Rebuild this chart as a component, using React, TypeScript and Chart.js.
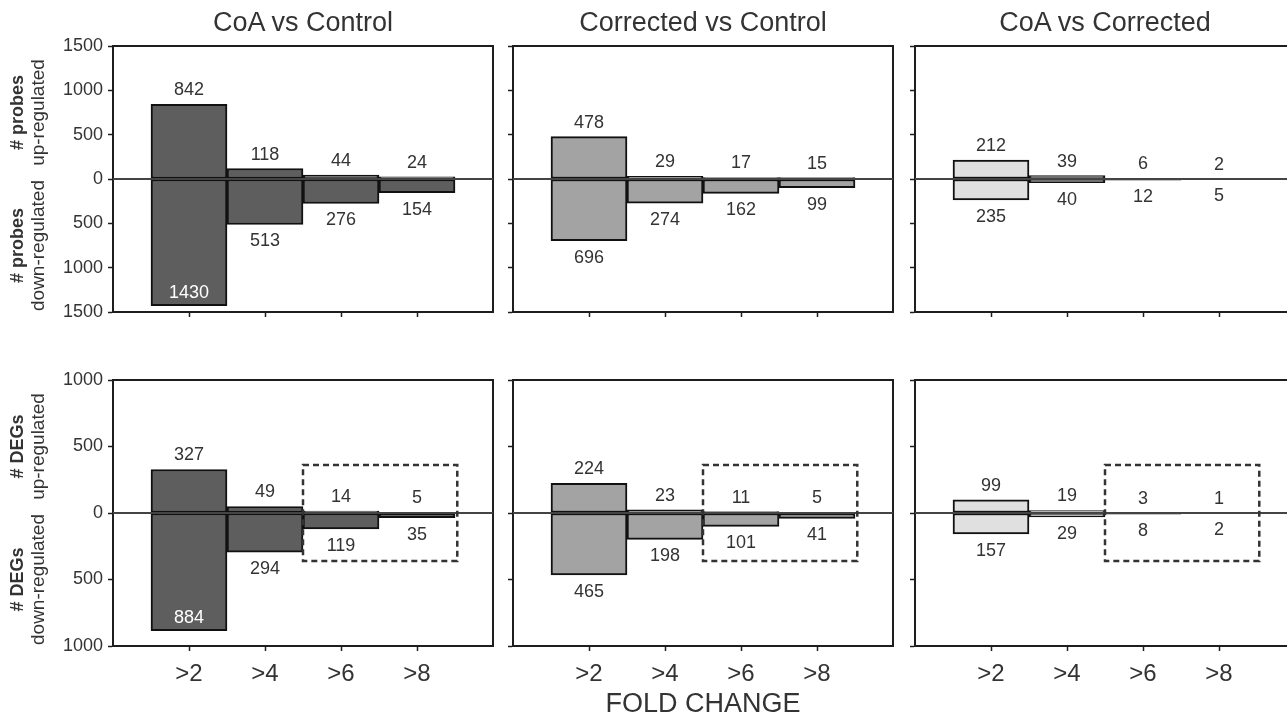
import React, { useEffect, useRef } from 'react';
import { Chart, registerables } from 'chart.js';

Chart.register(...registerables);

// ---------- data ----------
const FOLD_LABELS = ['>2', '>4', '>6', '>8'];
const PANEL_TITLES = ['CoA vs Control', 'Corrected vs Control', 'CoA vs Corrected'];
const X_AXIS_TITLE = 'FOLD CHANGE';
const ROW_TITLES = ['# probes', '# DEGs'];
const UP_TEXT = 'up-regulated';
const DOWN_TEXT = 'down-regulated';

const PROBES_UP_COA_CONTROL = [842, 118, 44, 24];
const PROBES_DOWN_COA_CONTROL = [1430, 513, 276, 154];
const PROBES_UP_CORR_CONTROL = [478, 29, 17, 15];
const PROBES_DOWN_CORR_CONTROL = [696, 274, 162, 99];
const PROBES_UP_COA_CORR = [212, 39, 6, 2];
const PROBES_DOWN_COA_CORR = [235, 40, 12, 5];

const DEGS_UP_COA_CONTROL = [327, 49, 14, 5];
const DEGS_DOWN_COA_CONTROL = [884, 294, 119, 35];
const DEGS_UP_CORR_CONTROL = [224, 23, 11, 5];
const DEGS_DOWN_CORR_CONTROL = [465, 198, 101, 41];
const DEGS_UP_COA_CORR = [99, 19, 3, 1];
const DEGS_DOWN_COA_CORR = [157, 29, 8, 2];

const PROBES_AXIS_MAX = 1500;
const DEGS_AXIS_MAX = 1000;
const Y_STEP = 500;

// dashed highlight box (bottom row): spans the >6 and >8 bins, +/- 360
const DASH_FROM_LABEL = '>6';
const DASH_TO_LABEL = '>8';
const DASH_LEVEL = 360;

// ---------- styles / layout ----------
const FILLS = ['#5e5e5e', '#a3a3a3', '#e0e0e0'];
const FONT = "'Liberation Sans', Arial, Helvetica, sans-serif";
const TEXT = '#333333';
const AXIS = '#1e1e1e';
const PLOT_LEFTS = [113, 513, 915];
const PLOT_W = 380;
const PLOT_H = 266;
const ROW_PLOT_TOPS = [46, 380];
const PAD_TOP = 46;
const PAD_RIGHT = 12;
const X_AXIS_H = [16, 45];
const Y_AXIS_W0 = 60;
const Y_AXIS_W = 10;
const LEFT_PAD0 = PLOT_LEFTS[0] - Y_AXIS_W0;

type Spec = {
  row: number;
  col: number;
  up: number[];
  down: number[];
  axisMax: number;
};

const SPECS: Spec[] = [
  { row: 0, col: 0, up: PROBES_UP_COA_CONTROL, down: PROBES_DOWN_COA_CONTROL, axisMax: PROBES_AXIS_MAX },
  { row: 0, col: 1, up: PROBES_UP_CORR_CONTROL, down: PROBES_DOWN_CORR_CONTROL, axisMax: PROBES_AXIS_MAX },
  { row: 0, col: 2, up: PROBES_UP_COA_CORR, down: PROBES_DOWN_COA_CORR, axisMax: PROBES_AXIS_MAX },
  { row: 1, col: 0, up: DEGS_UP_COA_CONTROL, down: DEGS_DOWN_COA_CONTROL, axisMax: DEGS_AXIS_MAX },
  { row: 1, col: 1, up: DEGS_UP_CORR_CONTROL, down: DEGS_DOWN_CORR_CONTROL, axisMax: DEGS_AXIS_MAX },
  { row: 1, col: 2, up: DEGS_UP_COA_CORR, down: DEGS_DOWN_COA_CORR, axisMax: DEGS_AXIS_MAX },
];

// category labels padded with an empty slot on each side
const AXIS_LABELS = ['', ...FOLD_LABELS, ''];
const pad = (arr: (number | null)[]) => [null, ...arr, null];

const decorPlugin = {
  id: 'panelDecor',
  afterDraw(chart: any, _args: any, opts: any) {
    const spec: Spec = opts.spec;
    const { ctx, chartArea: a } = chart;
    const xs = chart.scales.x;
    const ys = chart.scales.y;
    ctx.save();

    // frame
    ctx.strokeStyle = AXIS;
    ctx.lineWidth = 2;
    ctx.strokeRect(a.left, a.top, a.right - a.left, a.bottom - a.top);

    // zero line
    const y0 = ys.getPixelForValue(0);
    ctx.strokeStyle = '#444444';
    ctx.lineWidth = 2;
    ctx.beginPath();
    ctx.moveTo(a.left, y0);
    ctx.lineTo(a.right, y0);
    ctx.stroke();

    // dashed box
    if (spec.row === 1) {
      const fromIdx = AXIS_LABELS.indexOf(DASH_FROM_LABEL) - 0.5;
      const toIdx = AXIS_LABELS.indexOf(DASH_TO_LABEL) + 0.53;
      const l = xs.getPixelForValue(fromIdx);
      const r = xs.getPixelForValue(toIdx);
      const t = ys.getPixelForValue(DASH_LEVEL);
      const b = ys.getPixelForValue(-DASH_LEVEL);
      ctx.setLineDash([6, 4]);
      ctx.lineWidth = 2.5;
      ctx.strokeStyle = '#333333';
      ctx.strokeRect(l, t, r - l, b - t);
      ctx.setLineDash([]);
    }

    // value labels
    ctx.font = `18px ${FONT}`;
    ctx.textAlign = 'center';
    ctx.textBaseline = 'middle';
    const upMeta = chart.getDatasetMeta(0);
    const downMeta = chart.getDatasetMeta(1);
    FOLD_LABELS.forEach((_, i) => {
      const ub = upMeta.data[i + 1];
      const db = downMeta.data[i + 1];
      if (ub) {
        ctx.fillStyle = TEXT;
        ctx.fillText(String(spec.up[i]), ub.x, ub.y - 14);
      }
      if (db) {
        if (db.y + 27 > a.bottom) {
          ctx.fillStyle = '#ffffff';
          ctx.fillText(String(spec.down[i]), db.x, db.y - 13);
        } else {
          ctx.fillStyle = TEXT;
          ctx.fillText(String(spec.down[i]), db.x, db.y + 17);
        }
      }
    });

    // row titles (left column only)
    if (spec.col === 0) {
      const yUp = ys.getPixelForValue(spec.axisMax / 2);
      const yDown = ys.getPixelForValue(-spec.axisMax / 2);
      const drawRot = (text: string, x: number, y: number, font: string) => {
        ctx.save();
        ctx.translate(x, y);
        ctx.rotate(-Math.PI / 2);
        ctx.font = font;
        ctx.fillStyle = TEXT;
        ctx.textAlign = 'center';
        ctx.textBaseline = 'middle';
        ctx.fillText(text, 0, 0);
        ctx.restore();
      };
      const title = ROW_TITLES[spec.row];
      drawRot(title, 18, yUp, `bold 18px ${FONT}`);
      drawRot(UP_TEXT, 39, yUp, `19px ${FONT}`);
      drawRot(title, 18, yDown, `bold 18px ${FONT}`);
      drawRot(DOWN_TEXT, 39, yDown, `19px ${FONT}`);
    }
    ctx.restore();
  },
};

function canvasGeom(spec: Spec) {
  const left = spec.col === 0 ? 0 : PLOT_LEFTS[spec.col] - Y_AXIS_W;
  const padLeft = spec.col === 0 ? LEFT_PAD0 : 0;
  const yW = spec.col === 0 ? Y_AXIS_W0 : Y_AXIS_W;
  const width = padLeft + yW + PLOT_W + PAD_RIGHT;
  const top = ROW_PLOT_TOPS[spec.row] - PAD_TOP;
  const height = PAD_TOP + PLOT_H + X_AXIS_H[spec.row];
  return { left, top, width, height, padLeft, yW };
}

function Panel({ spec }: { spec: Spec }) {
  const ref = useRef<HTMLCanvasElement>(null);
  const g = canvasGeom(spec);
  useEffect(() => {
    if (!ref.current) return;
    const fill = FILLS[spec.col];
    const chart = new Chart(ref.current, {
      type: 'bar',
      data: {
        labels: AXIS_LABELS,
        datasets: [
          {
            label: 'up',
            data: pad(spec.up),
            backgroundColor: fill,
            borderColor: '#111111',
            borderWidth: 2,
            borderSkipped: false,
            barPercentage: 1,
            categoryPercentage: 1,
          },
          {
            label: 'down',
            data: pad(spec.down.map((v) => -v)),
            backgroundColor: fill,
            borderColor: '#111111',
            borderWidth: 2,
            borderSkipped: false,
            barPercentage: 1,
            categoryPercentage: 1,
          },
        ],
      },
      options: {
        animation: false,
        responsive: false,
        maintainAspectRatio: false,
        events: [],
        layout: { padding: { left: g.padLeft, top: PAD_TOP, right: PAD_RIGHT, bottom: 0 } },
        plugins: {
          legend: { display: false },
          tooltip: { enabled: false },
          title: { display: false },
          panelDecor: { spec },
        } as any,
        scales: {
          x: {
            type: 'category',
            stacked: true,
            offset: false,
            grid: {
              offset: false,
              drawOnChartArea: false,
              drawTicks: true,
              tickLength: 5,
              tickWidth: 1.5,
              tickColor: (c: any) =>
                c.index === 0 || c.index === AXIS_LABELS.length - 1 ? 'rgba(0,0,0,0)' : AXIS,
            },
            border: { display: true, color: AXIS, width: 2 },
            ticks: {
              display: spec.row === 1,
              autoSkip: false,
              maxRotation: 0,
              minRotation: 0,
              padding: 9,
              color: TEXT,
              font: { family: FONT, size: 24 },
            },
            afterFit: (s: any) => {
              s.height = X_AXIS_H[spec.row];
            },
          },
          y: {
            stacked: true,
            min: -spec.axisMax,
            max: spec.axisMax,
            grid: {
              drawOnChartArea: false,
              drawTicks: true,
              tickLength: 5,
              tickWidth: 1.5,
              tickColor: AXIS,
            },
            border: { display: true, color: AXIS, width: 2 },
            ticks: {
              display: spec.col === 0,
              stepSize: Y_STEP,
              padding: 5,
              color: TEXT,
              font: { family: FONT, size: 18 },
              callback: (v: any) => String(Math.abs(Number(v))),
            },
            afterFit: (s: any) => {
              s.width = g.yW;
            },
          },
        },
      } as any,
      plugins: [decorPlugin as any],
    });
    return () => chart.destroy();
  }, []);
  return (
    <canvas
      ref={ref}
      width={g.width}
      height={g.height}
      style={{ position: 'absolute', left: g.left, top: g.top, width: g.width, height: g.height }}
    />
  );
}

export default function App() {
  return (
    <div
      style={{
        position: 'fixed',
        left: 0,
        top: 0,
        width: 1287,
        height: 719,
        overflow: 'hidden',
        background: '#ffffff',
        fontFamily: FONT,
        color: TEXT,
      }}
    >
      {SPECS.map((s) => (
        <Panel key={`${s.row}-${s.col}`} spec={s} />
      ))}
      {PANEL_TITLES.map((t, i) => (
        <div
          key={t}
          style={{
            position: 'absolute',
            left: PLOT_LEFTS[i],
            width: PLOT_W,
            top: 6,
            lineHeight: '32px',
            fontSize: 27,
            textAlign: 'center',
            whiteSpace: 'nowrap',
          }}
        >
          {t}
        </div>
      ))}
      <div
        style={{
          position: 'absolute',
          left: PLOT_LEFTS[1],
          width: PLOT_W,
          top: 687,
          lineHeight: '32px',
          fontSize: 27,
          textAlign: 'center',
          whiteSpace: 'nowrap',
        }}
      >
        {X_AXIS_TITLE}
      </div>
    </div>
  );
}
